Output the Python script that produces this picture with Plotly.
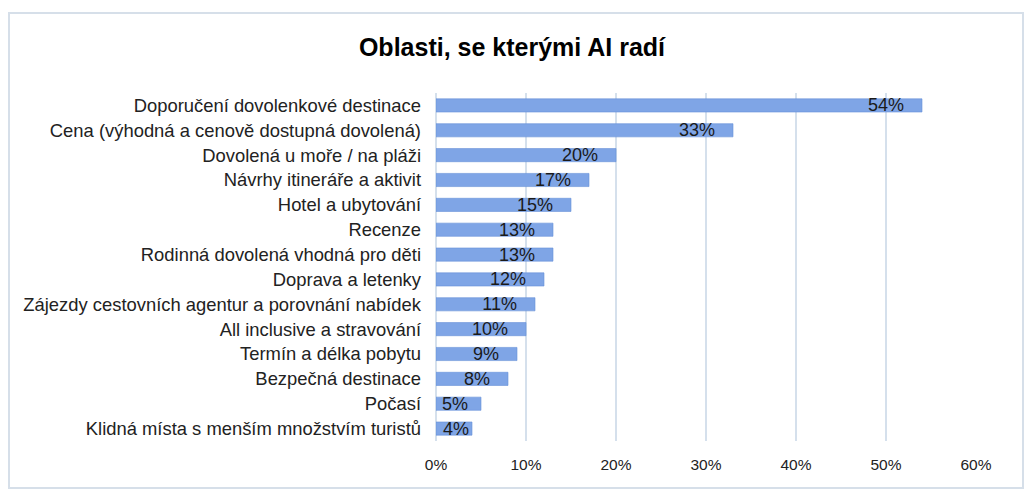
import plotly.graph_objects as go

# Data
categories = [
    "Doporučení dovolenkové destinace",
    "Cena (výhodná a cenově dostupná dovolená)",
    "Dovolená u moře / na pláži",
    "Návrhy itineráře a aktivit",
    "Hotel a ubytování",
    "Recenze",
    "Rodinná dovolená vhodná pro děti",
    "Doprava a letenky",
    "Zájezdy cestovních agentur a porovnání nabídek",
    "All inclusive a stravování",
    "Termín a délka pobytu",
    "Bezpečná destinace",
    "Počasí",
    "Klidná místa s menším množstvím turistů",
]
shares = [0.54, 0.33, 0.20, 0.17, 0.15, 0.13, 0.13, 0.12, 0.11, 0.10, 0.09, 0.08, 0.05, 0.04]
tick_vals = [0, 0.1, 0.2, 0.3, 0.4, 0.5, 0.6]

FONT = "Liberation Sans, Arial, sans-serif"

# page body has an 8px margin, so the figure is sized 8px smaller
W, H = 1025, 485
ML, MR, MT, MB = 428, 57, 85, 52
PW, PH = W - ML - MR, H - MT - MB
PX_PER_UNIT = PW / 0.6


def pad_label(v):
    # keep the label a little inside the bar end, less on short bars
    n = max(0, min(3, int((v * PX_PER_UNIT - 32) / 5)))
    return f"{v:.0%}" + "\u00a0" * n


labels = [pad_label(v) for v in shares]

fig = go.Figure()

fig.add_trace(go.Bar(
    x=shares,
    y=categories,
    orientation="h",
    marker=dict(color="#7fa5e6", line=dict(color="#6790d8", width=0.6)),
    text=labels,
    textposition="inside",
    insidetextanchor="end",
    constraintext="none",
    textfont=dict(family=FONT, size=18, color="#1a1a1a"),
    cliponaxis=False,
))

fig.update_layout(
    width=W,
    height=H,
    margin=dict(l=ML, r=MR, t=MT, b=MB),
    paper_bgcolor="white",
    plot_bgcolor="white",
    bargap=0.47,
    showlegend=False,
    title=dict(
        text="<b>Oblasti, se kterými AI radí</b>",
        x=(512 - 8) / W,
        xanchor="center",
        y=1 - 39 / H,
        yanchor="middle",
        font=dict(family=FONT, size=25, color="#000000"),
    ),
    font=dict(family=FONT, size=18, color="#222222"),
    shapes=[dict(
        type="rect", xref="paper", yref="paper",
        x0=(1 - ML) / PW, x1=(1015 - ML) / PW,
        y0=(PH + MT - 480) / PH, y1=(PH + MT - 5) / PH,
        line=dict(color="#d6dfe9", width=2),
        layer="below",
    )],
)

fig.update_xaxes(
    range=[0, 0.6],
    tickvals=tick_vals,
    tickformat=".0%",
    showgrid=True,
    gridcolor="#d5e0ec",
    gridwidth=1.5,
    zeroline=True,
    zerolinecolor="#d5e0ec",
    zerolinewidth=1.5,
    ticks="",
    ticklabelstandoff=12,
    tickfont=dict(family=FONT, size=15.5, color="#222222"),
)

fig.update_yaxes(
    autorange="reversed",
    showgrid=False,
    ticks="",
    ticklabelstandoff=14,
    tickfont=dict(family=FONT, size=18.4, color="#222222"),
)

fig.write_html("out.html")
